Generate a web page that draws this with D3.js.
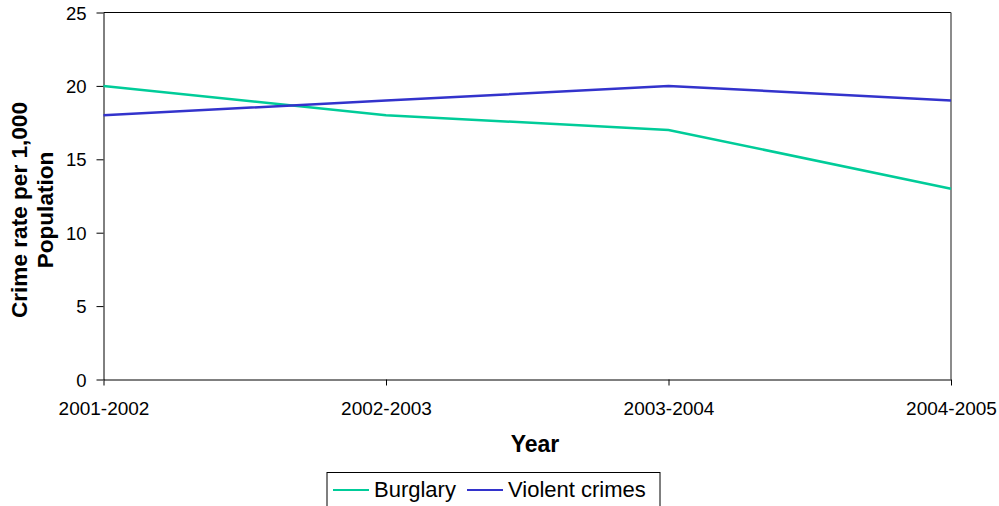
<!DOCTYPE html>
<html><head><meta charset="utf-8">
<script src="https://cdn.jsdelivr.net/npm/d3@7"></script>
<style>body{margin:0;background:#fff}svg{display:block}text{font-family:"Liberation Sans",Arial,sans-serif}</style>
</head><body>
<svg id="c" width="999" height="506"></svg>
<script>
const categories = ["2001-2002","2002-2003","2003-2004","2004-2005"];
const burglary = [20,18,17,13];
const violent = [18,19,20,19];
const yTicks = [0,5,10,15,20,25];
const seriesNames = ["Burglary","Violent crimes"];
const colors = ["#00CC99","#3333CC"];

const svg = d3.select("#c");
const L=103.5,R=951,T=12.5,B=379.5;
const x = d3.scalePoint().domain(categories).range([L,R]).padding(0);
const y = d3.scaleLinear().domain([0,25]).range([B,T]);

// plot frame
svg.append("line").attr("x1",L).attr("x2",R).attr("y1",T).attr("y2",T).attr("stroke","#000");
svg.append("line").attr("x1",R).attr("x2",R).attr("y1",T).attr("y2",B).attr("stroke","#666").attr("stroke-width",1.5);

const yAx = svg.append("g").attr("transform",`translate(${L},0)`)
  .call(d3.axisLeft(y).tickValues(yTicks).tickSize(7).tickPadding(10).tickSizeOuter(0));
yAx.selectAll("text").attr("font-size",18.5).attr("fill","#000").attr("dy","0.36em");
yAx.select(".domain").attr("stroke","#000");
yAx.selectAll(".tick line").attr("stroke","#000");

const xAx = svg.append("g").attr("transform",`translate(0,${B})`)
  .call(d3.axisBottom(x).tickSize(6).tickPadding(8).tickSizeOuter(0));
xAx.selectAll("text").attr("font-size",19).attr("fill","#000").attr("dy",null).attr("y",35.5);
xAx.select(".domain").attr("stroke","#000");
xAx.selectAll(".tick line").attr("stroke","#000");

const line = d3.line().x((d,i)=>x(categories[i])).y(d=>y(d));
[burglary,violent].forEach((s,k)=>{
  svg.append("path").datum(s).attr("d",line).attr("fill","none")
    .attr("stroke",colors[k]).attr("stroke-width",2.5);
});

svg.append("text").attr("x",535).attr("y",452).attr("text-anchor","middle")
  .attr("font-size",23).attr("font-weight","bold").text("Year");
const yt = svg.append("text").attr("transform","translate(0,210) rotate(-90)")
  .attr("text-anchor","middle").attr("font-size",22.6).attr("font-weight","bold");
yt.append("tspan").attr("x",0).attr("y",27).text("Crime rate per 1,000");
yt.append("tspan").attr("x",0).attr("y",53).text("Population");

// legend
const lg = svg.append("g");
lg.append("rect").attr("x",327).attr("y",472.5).attr("width",333).attr("height",40)
  .attr("fill","#fff").attr("stroke","#000");
const lx=[333,467];
seriesNames.forEach((n,k)=>{
  lg.append("line").attr("x1",lx[k]).attr("x2",lx[k]+36).attr("y1",490).attr("y2",490)
    .attr("stroke",colors[k]).attr("stroke-width",2);
  lg.append("text").attr("x",lx[k]+41).attr("y",497).attr("font-size",22).text(n);
});
</script>
</body></html>
